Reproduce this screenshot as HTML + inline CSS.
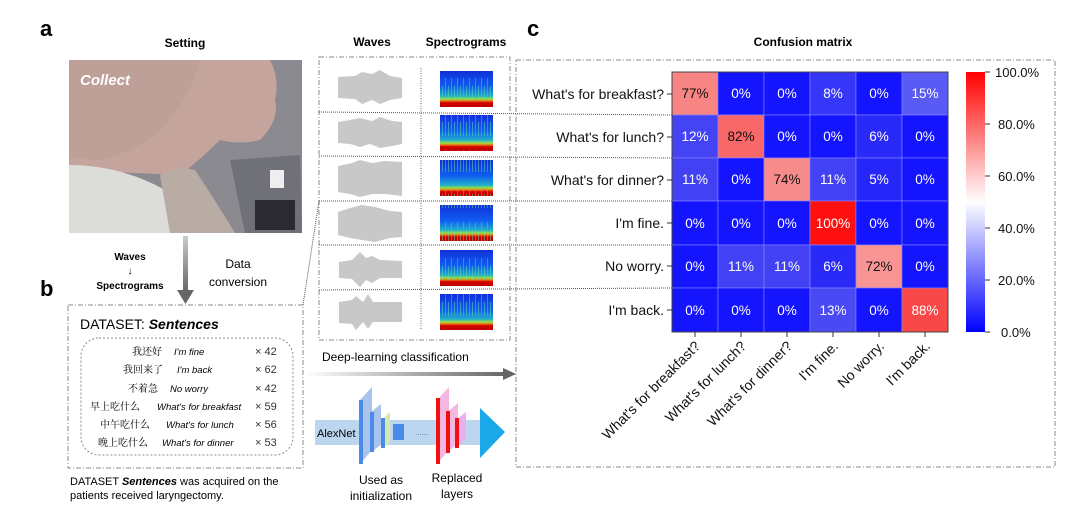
<!DOCTYPE html>
<html><head><meta charset="utf-8"><style>
body{margin:0;background:#fff;width:1090px;height:521px;overflow:hidden}
svg{display:block;font-family:"Liberation Sans","Noto Sans CJK SC",sans-serif}
</style></head><body>
<svg width="1090" height="521" viewBox="0 0 1090 521" xmlns="http://www.w3.org/2000/svg">
<defs>
<linearGradient id="spec" x1="0" y1="0" x2="0" y2="1">
<stop offset="0" stop-color="#1030d8"/><stop offset="0.45" stop-color="#1060f0"/><stop offset="0.7" stop-color="#20b0c8"/><stop offset="0.78" stop-color="#a0e040"/><stop offset="0.84" stop-color="#f06010"/><stop offset="0.88" stop-color="#d00000"/><stop offset="1" stop-color="#c00000"/>
</linearGradient>
<pattern id="speck" width="6" height="36" patternUnits="userSpaceOnUse">
<rect x="1" y="6" width="1" height="22" fill="#30d0e0" opacity="0.5"/><rect x="4" y="14" width="1" height="14" fill="#60e0a0" opacity="0.5"/>
</pattern>
<linearGradient id="garr" x1="0" y1="0" x2="1" y2="0"><stop offset="0" stop-color="#fff"/><stop offset="1" stop-color="#666"/></linearGradient>
<linearGradient id="garrv" x1="0" y1="0" x2="0" y2="1"><stop offset="0" stop-color="#ccc"/><stop offset="1" stop-color="#666"/></linearGradient>
<linearGradient id="cb" x1="0" y1="1" x2="0" y2="0">
<stop offset="0" stop-color="#0000ff"/><stop offset="0.5" stop-color="#ffffff"/><stop offset="1" stop-color="#ff0000"/>
</linearGradient>
</defs>

<text x="40" y="36" font-size="22" font-weight="bold">a</text>
<text x="40" y="296" font-size="22" font-weight="bold">b</text>
<text x="527" y="36" font-size="22" font-weight="bold">c</text>

<text x="185" y="47" font-size="12" font-weight="bold" text-anchor="middle">Setting</text>
<rect x="69" y="60" width="233" height="173" fill="#8a8a90"/>
<path d="M69 60 L270 60 Q280 80 275 100 Q280 120 260 140 Q240 145 220 140 Q200 160 180 175 L69 170Z" fill="#c4a49c"/>
<path d="M69 60 L200 60 Q190 100 160 130 Q140 150 100 160 L69 158Z" fill="#bfa098"/>
<path d="M69 165 Q120 165 165 190 L175 233 L69 233Z" fill="#dcdcd8"/>
<path d="M160 175 Q175 165 195 170 Q215 200 235 233 L170 233Z" fill="#b8aca4"/>
<path d="M230 160 L300 155 L302 233 L245 233Z" fill="#707078"/>
<rect x="255" y="200" width="40" height="30" fill="#2a2a30"/>
<rect x="270" y="170" width="14" height="18" fill="#eeeeee"/>
<text x="80" y="85" font-size="15" font-weight="bold" font-style="italic" fill="#fff">Collect</text>

<rect x="183" y="236" width="5" height="56" fill="url(#garrv)"/>
<path d="M177 290 L194 290 L185.5 304Z" fill="#666"/>
<text x="130" y="260" font-size="10" font-weight="bold" text-anchor="middle">Waves</text>
<text x="130" y="274" font-size="10" text-anchor="middle">↓</text>
<text x="130" y="289" font-size="10" font-weight="bold" text-anchor="middle">Spectrograms</text>
<text x="238" y="268" font-size="12" text-anchor="middle">Data</text>
<text x="238" y="286" font-size="12" text-anchor="middle">conversion</text>

<rect x="68" y="305" width="235" height="163" fill="none" stroke="#888" stroke-dasharray="5,2,1,2"/>
<text x="80" y="329" font-size="14">DATASET: <tspan font-weight="bold" font-style="italic">Sentences</tspan></text>
<rect x="81" y="338" width="212" height="117" rx="18" fill="none" stroke="#888" stroke-dasharray="2,2"/>
<g font-size="9.5">
<text x="132" y="355" font-family="'Noto Serif CJK SC',serif" font-size="10">我还好</text><text x="174" y="355" font-style="italic">I'm fine</text>
<text x="123" y="373" font-family="'Noto Serif CJK SC',serif" font-size="10">我回来了</text><text x="177" y="373" font-style="italic">I'm back</text>
<text x="128" y="392" font-family="'Noto Serif CJK SC',serif" font-size="10">不着急</text><text x="170" y="392" font-style="italic">No worry</text>
<text x="90" y="410" font-family="'Noto Serif CJK SC',serif" font-size="10">早上吃什么</text><text x="157" y="410" font-style="italic">What's for breakfast</text>
<text x="100" y="428" font-family="'Noto Serif CJK SC',serif" font-size="10">中午吃什么</text><text x="166" y="428" font-style="italic">What's for lunch</text>
<text x="98" y="446" font-family="'Noto Serif CJK SC',serif" font-size="10">晚上吃什么</text><text x="162" y="446" font-style="italic">What's for dinner</text>
</g>
<g font-size="11" fill="#333">
<text x="255" y="355">× 42</text><text x="255" y="373">× 62</text><text x="255" y="392">× 42</text>
<text x="255" y="410">× 59</text><text x="255" y="428">× 56</text><text x="255" y="446">× 53</text>
</g>
<text x="70" y="485" font-size="11">DATASET <tspan font-weight="bold" font-style="italic">Sentences</tspan> was acquired on the</text>
<text x="70" y="499" font-size="11">patients received laryngectomy.</text>

<text x="372" y="46" font-size="12" font-weight="bold" text-anchor="middle">Waves</text>
<text x="466" y="46" font-size="12" font-weight="bold" text-anchor="middle">Spectrograms</text>
<rect x="319" y="57" width="191" height="283" fill="none" stroke="#888" stroke-dasharray="5,2,1,2"/>
<line x1="421" y1="68" x2="421" y2="330" stroke="#666" stroke-dasharray="1,1.5"/>
<g stroke="#555" stroke-dasharray="1,1" stroke-width="1">
<line x1="319" y1="112" x2="672" y2="115"/>
<line x1="319" y1="156" x2="672" y2="158"/>
<line x1="319" y1="201" x2="672" y2="201"/>
<line x1="319" y1="245" x2="672" y2="245"/>
<line x1="319" y1="290" x2="672" y2="288"/>
<line x1="303" y1="305" x2="319" y2="201"/>
</g>
<g fill="#c8c8c8">
<path d="M338 77 L355 76 L362 72 L372 74 L380 70 L390 76 L402 78 L402 98 L390 100 L380 104 L372 100 L362 104 L355 99 L338 98Z"/>
<path d="M338 122 L350 120 L360 118 L372 121 L380 117 L392 121 L402 122 L402 144 L392 146 L380 148 L370 144 L360 147 L350 144 L338 143Z"/>
<path d="M338 166 L352 163 L360 160 L372 163 L385 161 L402 162 L402 196 L385 194 L372 194 L360 197 L350 194 L338 192Z"/>
<path d="M338 212 L350 208 L362 205 L375 207 L390 211 L402 212 L402 237 L390 238 L375 242 L362 240 L350 238 L338 235Z"/>
<path d="M339 262 L352 260 L360 252 L366 258 L372 256 L380 260 L402 261 L402 278 L380 278 L372 283 L366 280 L360 287 L352 279 L339 278Z"/>
<path d="M339 302 L352 300 L356 296 L363 302 L368 294 L373 302 L402 302 L402 322 L373 322 L368 329 L363 322 L356 330 L352 324 L339 323Z"/>
</g>
<g fill="url(#spec)">
<rect x="440" y="71" width="53" height="36"/>
<rect x="440" y="115" width="53" height="36"/>
<rect x="440" y="160" width="53" height="36"/>
<rect x="440" y="205" width="53" height="36"/>
<rect x="440" y="250" width="53" height="36"/>
<rect x="440" y="294" width="53" height="36"/>
</g>
<g fill="url(#speck)">
<rect x="440" y="71" width="53" height="36"/><rect x="440" y="115" width="53" height="36"/><rect x="440" y="160" width="53" height="36"/>
<rect x="440" y="205" width="53" height="36"/><rect x="440" y="250" width="53" height="36"/><rect x="440" y="294" width="53" height="36"/>
</g>

<text x="322" y="361" font-size="12">Deep-learning classification</text>
<rect x="305" y="372" width="202" height="4" fill="url(#garr)"/>
<path d="M503 368 L516 374 L503 380Z" fill="#666"/>
<rect x="315" y="420" width="170" height="25" fill="#bcd6f0"/>
<path d="M480 408 L505 432 L480 458Z" fill="#1aa8e8"/>
<text x="317" y="437" font-size="11">AlexNet</text>
<g fill="#4a8ae8">
<path d="M360 400 L372 387 L372 450 L360 464Z" fill="#a8c4ec"/>
<rect x="359" y="400" width="4" height="64"/>
<path d="M371 412 L381 404 L381 445 L371 452Z" fill="#a8c4ec"/><rect x="370" y="412" width="4" height="40"/>
<path d="M382 420 L390 412 L390 442 L382 448Z" fill="#d8e8a8"/><rect x="381" y="418" width="4" height="30"/>
<rect x="393" y="424" width="11" height="16"/>
</g>
<text x="415" y="435" font-size="8" fill="#4a6aa8">......</text>
<g>
<path d="M437 400 L449 387 L449 450 L437 464Z" fill="#f4b8e0"/><rect x="436" y="398" width="4" height="66" fill="#f01010"/>
<path d="M447 412 L458 403 L458 444 L447 452Z" fill="#f4b8e0"/><rect x="446" y="411" width="4" height="42" fill="#f01010"/>
<path d="M456 420 L466 412 L466 440 L456 447Z" fill="#e8b0f0"/><rect x="455" y="418" width="4" height="30" fill="#f01010"/>
</g>
<text x="381" y="484" font-size="12" text-anchor="middle">Used as</text>
<text x="381" y="500" font-size="12" text-anchor="middle">initialization</text>
<text x="457" y="482" font-size="12" text-anchor="middle">Replaced</text>
<text x="457" y="498" font-size="12" text-anchor="middle">layers</text>

<text x="803" y="46" font-size="12" font-weight="bold" text-anchor="middle">Confusion matrix</text>
<rect x="516" y="60" width="539" height="407" fill="none" stroke="#888" stroke-dasharray="5,2,1,2"/>
<g stroke="#8888ff" stroke-width="0.6">
<rect x="672" y="72" width="46" height="43" fill="#f88484"/><rect x="718" y="72" width="46" height="43" fill="#1414ff"/><rect x="764" y="72" width="46" height="43" fill="#1414ff"/><rect x="810" y="72" width="46" height="43" fill="#3636f8"/><rect x="856" y="72" width="46" height="43" fill="#1414ff"/><rect x="902" y="72" width="46" height="43" fill="#5a5af4"/>
<rect x="672" y="115" width="46" height="43" fill="#4444f4"/><rect x="718" y="115" width="46" height="43" fill="#f86868"/><rect x="764" y="115" width="46" height="43" fill="#1414ff"/><rect x="810" y="115" width="46" height="43" fill="#1414ff"/><rect x="856" y="115" width="46" height="43" fill="#2a2af8"/><rect x="902" y="115" width="46" height="43" fill="#1414ff"/>
<rect x="672" y="158" width="46" height="43" fill="#4242f4"/><rect x="718" y="158" width="46" height="43" fill="#1414ff"/><rect x="764" y="158" width="46" height="43" fill="#f88c8c"/><rect x="810" y="158" width="46" height="43" fill="#4242f4"/><rect x="856" y="158" width="46" height="43" fill="#2626f8"/><rect x="902" y="158" width="46" height="43" fill="#1414ff"/>
<rect x="672" y="201" width="46" height="44" fill="#1414ff"/><rect x="718" y="201" width="46" height="44" fill="#1414ff"/><rect x="764" y="201" width="46" height="44" fill="#1414ff"/><rect x="810" y="201" width="46" height="44" fill="#ff1010"/><rect x="856" y="201" width="46" height="44" fill="#1414ff"/><rect x="902" y="201" width="46" height="44" fill="#1414ff"/>
<rect x="672" y="245" width="46" height="43" fill="#1414ff"/><rect x="718" y="245" width="46" height="43" fill="#4242f4"/><rect x="764" y="245" width="46" height="43" fill="#4242f4"/><rect x="810" y="245" width="46" height="43" fill="#2a2af8"/><rect x="856" y="245" width="46" height="43" fill="#f89494"/><rect x="902" y="245" width="46" height="43" fill="#1414ff"/>
<rect x="672" y="288" width="46" height="44" fill="#1414ff"/><rect x="718" y="288" width="46" height="44" fill="#1414ff"/><rect x="764" y="288" width="46" height="44" fill="#1414ff"/><rect x="810" y="288" width="46" height="44" fill="#4a4af4"/><rect x="856" y="288" width="46" height="44" fill="#1414ff"/><rect x="902" y="288" width="46" height="44" fill="#f84848"/>
</g>
<rect x="672" y="72" width="276" height="260" fill="none" stroke="#444" stroke-width="1"/>
<g font-size="13.5" text-anchor="middle" fill="#fff">
<text x="695" y="98" fill="#111">77%</text><text x="741" y="98">0%</text><text x="787" y="98">0%</text><text x="833" y="98">8%</text><text x="879" y="98">0%</text><text x="925" y="98">15%</text>
<text x="695" y="141">12%</text><text x="741" y="141" fill="#111">82%</text><text x="787" y="141">0%</text><text x="833" y="141">0%</text><text x="879" y="141">6%</text><text x="925" y="141">0%</text>
<text x="695" y="184">11%</text><text x="741" y="184">0%</text><text x="787" y="184" fill="#111">74%</text><text x="833" y="184">11%</text><text x="879" y="184">5%</text><text x="925" y="184">0%</text>
<text x="695" y="228">0%</text><text x="741" y="228">0%</text><text x="787" y="228">0%</text><text x="833" y="228">100%</text><text x="879" y="228">0%</text><text x="925" y="228">0%</text>
<text x="695" y="271">0%</text><text x="741" y="271">11%</text><text x="787" y="271">11%</text><text x="833" y="271">6%</text><text x="879" y="271" fill="#111">72%</text><text x="925" y="271">0%</text>
<text x="695" y="315">0%</text><text x="741" y="315">0%</text><text x="787" y="315">0%</text><text x="833" y="315">13%</text><text x="879" y="315">0%</text><text x="925" y="315">88%</text>
</g>
<g font-size="14" text-anchor="end" fill="#111">
<text x="664" y="99">What's for breakfast?</text>
<text x="664" y="142">What's for lunch?</text>
<text x="664" y="185">What's for dinner?</text>
<text x="664" y="228">I'm fine.</text>
<text x="664" y="271">No worry.</text>
<text x="664" y="315">I'm back.</text>
</g>
<g stroke="#333">
<line x1="667" y1="94" x2="672" y2="94"/><line x1="667" y1="137" x2="672" y2="137"/><line x1="667" y1="180" x2="672" y2="180"/><line x1="667" y1="223" x2="672" y2="223"/><line x1="667" y1="266" x2="672" y2="266"/><line x1="667" y1="310" x2="672" y2="310"/>
<line x1="695" y1="332" x2="695" y2="337"/><line x1="741" y1="332" x2="741" y2="337"/><line x1="787" y1="332" x2="787" y2="337"/><line x1="833" y1="332" x2="833" y2="337"/><line x1="879" y1="332" x2="879" y2="337"/><line x1="925" y1="332" x2="925" y2="337"/>
</g>
<g font-size="14" text-anchor="end" fill="#111">
<text transform="translate(701,347) rotate(-45)">What's for breakfast?</text>
<text transform="translate(747,347) rotate(-45)">What's for lunch?</text>
<text transform="translate(793,347) rotate(-45)">What's for dinner?</text>
<text transform="translate(839,347) rotate(-45)">I'm fine.</text>
<text transform="translate(885,347) rotate(-45)">No worry.</text>
<text transform="translate(931,347) rotate(-45)">I'm back.</text>
</g>
<rect x="966" y="72" width="19" height="260" fill="url(#cb)"/>
<g stroke="#333"><line x1="985" y1="72" x2="990" y2="72"/><line x1="985" y1="124" x2="990" y2="124"/><line x1="985" y1="176" x2="990" y2="176"/><line x1="985" y1="228" x2="990" y2="228"/><line x1="985" y1="280" x2="990" y2="280"/><line x1="985" y1="332" x2="990" y2="332"/></g>
<g font-size="13" fill="#111">
<text x="995" y="77">100.0%</text>
<text x="998" y="129">80.0%</text>
<text x="998" y="181">60.0%</text>
<text x="998" y="233">40.0%</text>
<text x="998" y="285">20.0%</text>
<text x="1001" y="337">0.0%</text>
</g>
</svg>
</body></html>
